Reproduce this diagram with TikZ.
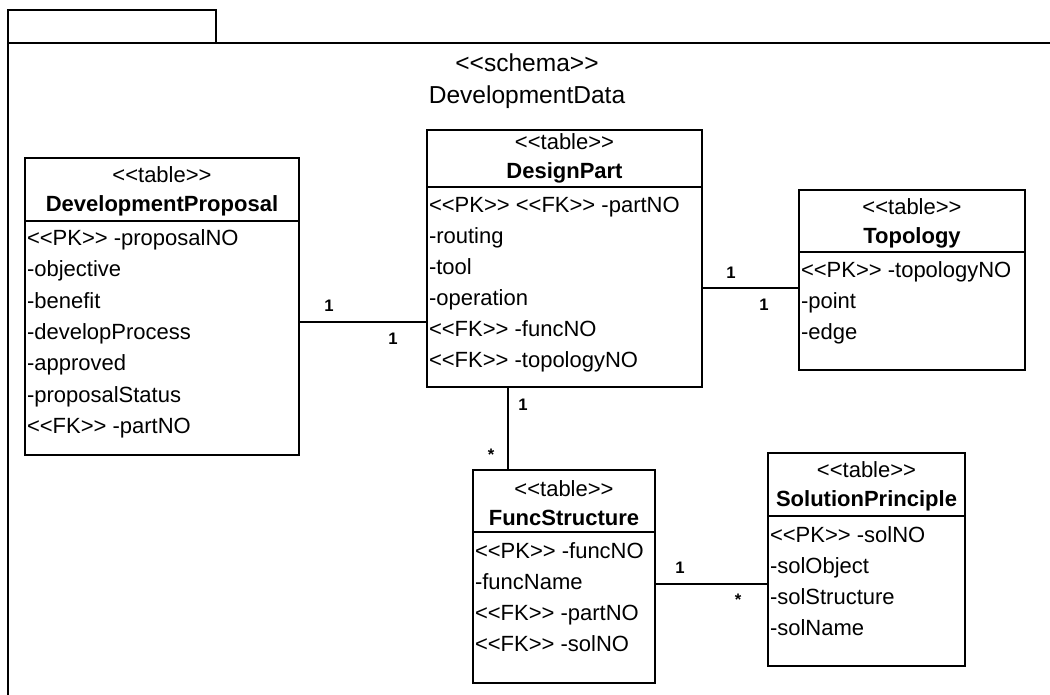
\documentclass[tikz,border=0pt]{standalone}
\usepackage{fontspec}
\setmainfont{Liberation Sans}
\usetikzlibrary{fit}
\newcommand{\gl}[1]{<\kern0pt<#1>\kern0pt>}

\begin{document}
\begin{tikzpicture}[x=0.75pt,y=-0.75pt,line width=1.1pt,
tbl/.style={draw,inner sep=0pt},
txt/.style={inner sep=0pt,font=\fontsize{16.5}{19}\selectfont},
ttl/.style={inner sep=0pt,font=\fontsize{16.5}{19}\selectfont\bfseries},
hdr/.style={inner sep=0pt,font=\fontsize{18.4}{22}\selectfont},
attr/.style={txt,anchor=west,xshift=1.5pt,text height=12pt,text depth=3.5pt},
mult/.style={inner sep=0pt,font=\fontsize{12.5}{14}\selectfont\bfseries},
]
\useasboundingbox (0,0) rectangle (1050,695);
% package frame
\draw (8,43) -- (8,10) -- (216,10) -- (216,43);
\draw (1050,43) -- (8,43) -- (8,695);
\node[hdr] (schema) at (527,63) {\gl{schema}};
\node[hdr] (dname) at (527,97) {DevelopmentData};

\node[tbl, fit={(25,158) (299,455)}] (dprop) {};
\draw (dprop.west |- 0,221) -- (dprop.east |- 0,221);
\node[txt] (dprop-s) at (dprop.north |- 0,175) {\gl{table}};
\node[ttl] (dprop-t) at (dprop.north |- 0,206) {DevelopmentProposal};
\foreach \a [count=\i from 0] in {\gl{PK} -proposalNO,-objective,-benefit,-developProcess,-approved,-proposalStatus,\gl{FK} -partNO}
  \node[attr] (dprop-\i) at (dprop.west |- 0,{240+31.3*\i}) {\a};

\node[tbl, fit={(427,130) (702,387)}] (dpart) {};
\draw (dpart.west |- 0,187) -- (dpart.east |- 0,187);
\node[txt] (dpart-s) at (dpart.north |- 0,142) {\gl{table}};
\node[ttl] (dpart-t) at (dpart.north |- 0,173) {DesignPart};
\foreach \a [count=\i from 0] in {\gl{PK} \gl{FK} -partNO,-routing,-tool,-operation,\gl{FK} -funcNO,\gl{FK} -topologyNO}
  \node[attr] (dpart-\i) at (dpart.west |- 0,{207+31*\i}) {\a};

\node[tbl, fit={(799,190) (1025,370)}] (topo) {};
\draw (topo.west |- 0,252) -- (topo.east |- 0,252);
\node[txt] (topo-s) at (topo.north |- 0,207) {\gl{table}};
\node[ttl] (topo-t) at (topo.north |- 0,238) {Topology};
\foreach \a [count=\i from 0] in {\gl{PK} -topologyNO,-point,-edge}
  \node[attr] (topo-\i) at (topo.west |- 0,{272+31*\i}) {\a};

\node[tbl, fit={(473,470) (655,683)}] (func) {};
\draw (func.west |- 0,532) -- (func.east |- 0,532);
\node[txt] (func-s) at (func.north |- 0,489) {\gl{table}};
\node[ttl] (func-t) at (func.north |- 0,518) {FuncStructure};
\foreach \a [count=\i from 0] in {\gl{PK} -funcNO,-funcName,\gl{FK} -partNO,\gl{FK} -solNO}
  \node[attr] (func-\i) at (func.west |- 0,{553+31*\i}) {\a};

\node[tbl, fit={(768,453) (965,666)}] (sol) {};
\draw (sol.west |- 0,516) -- (sol.east |- 0,516);
\node[txt] (sol-s) at (sol.north |- 0,470) {\gl{table}};
\node[ttl] (sol-t) at (sol.north |- 0,501) {SolutionPrinciple};
\foreach \a [count=\i from 0] in {\gl{PK} -solNO,-solObject,-solStructure,-solName}
  \node[attr] (sol-\i) at (sol.west |- 0,{537+31*\i}) {\a};

% associations
\draw (dprop.east |- 0,322) -- (dpart.west |- 0,322);
\draw (dpart.east |- 0,288) -- (topo.west |- 0,288);
\draw (dpart.south -| 508,0) -- (func.north -| 508,0);
\draw (func.east |- 0,584) -- (sol.west |- 0,584);
\node[mult] (m1) at (329,306) {1};
\node[mult] (m2) at (393,339) {1};
\node[mult] (m3) at (731,273) {1};
\node[mult] (m4) at (764,305) {1};
\node[mult] (m5) at (523,405) {1};
\node[mult] (m6) at (491,455) {*};
\node[mult] (m7) at (680,568) {1};
\node[mult] (m8) at (738,600) {*};
\end{tikzpicture}
\end{document}
